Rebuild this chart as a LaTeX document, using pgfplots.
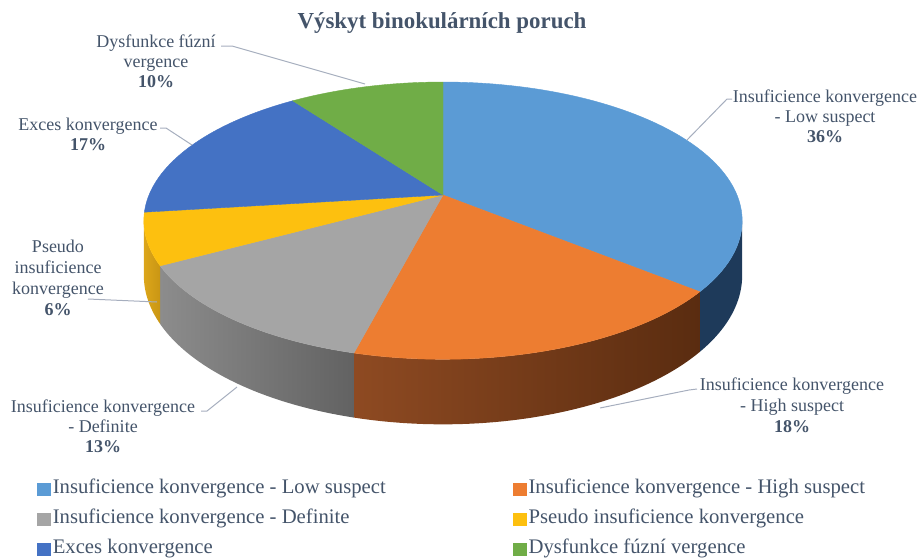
\documentclass[border=0pt]{standalone}
\usepackage{pgfplots}
\pgfplotsset{compat=1.18}
\usepackage{pgfplotstable}
\usepackage{fontspec}
\setmainfont{Liberation Serif}

\definecolor{txt}{HTML}{44546A}
\definecolor{lead}{HTML}{A6AEBE}
\definecolor{cA}{HTML}{5B9BD5}
\definecolor{cB}{HTML}{ED7D31}
\definecolor{cC}{HTML}{A5A5A5}
\definecolor{cD}{HTML}{FDC00F}
\definecolor{cE}{HTML}{4472C4}
\definecolor{cF}{HTML}{70AD47}
\definecolor{sA}{HTML}{1E3A5A}
\definecolor{sBl}{HTML}{8E4A22}
\definecolor{sBr}{HTML}{5A2C10}
\definecolor{sCl}{HTML}{8C8C8C}
\definecolor{sCr}{HTML}{626262}
\definecolor{sDl}{HTML}{DCA61A}
\definecolor{sDr}{HTML}{C99614}

\pgfplotstableread{
value
36
18
13
6
17
10
}\piedata

\newcommand\labfont{\fontsize{9}{10.25}\selectfont}
\newcommand{\lab}[3]{\node[anchor=base, inner sep=0pt, text=txt, font=\labfont] at (axis cs:#1,#2) {#3};}

\begin{document}
\begin{tikzpicture}
\pgfplotstablegetelem{0}{value}\of\piedata\let\vA\pgfplotsretval
\pgfplotstablegetelem{1}{value}\of\piedata\let\vB\pgfplotsretval
\pgfplotstablegetelem{2}{value}\of\piedata\let\vC\pgfplotsretval
\pgfplotstablegetelem{3}{value}\of\piedata\let\vD\pgfplotsretval
\pgfplotstablegetelem{4}{value}\of\piedata\let\vE\pgfplotsretval
\pgfplotstablegetelem{5}{value}\of\piedata\let\vF\pgfplotsretval
\pgfmathsetmacro\aA{90}
\pgfmathsetmacro\aB{\aA-3.6*\vA}
\pgfmathsetmacro\aC{\aB-3.6*\vB}
\pgfmathsetmacro\aD{\aC-3.6*\vC}
\pgfmathsetmacro\aE{\aD-3.6*\vD}
\pgfmathsetmacro\aF{\aE-3.6*\vE}
\pgfmathsetmacro\aG{\aF-3.6*\vF}
\pgfmathsetmacro\tL{-asin(0.185)}
\pgfmathsetmacro\tR{-180+asin(0.185)}
\begin{axis}[
  width=460.5pt, height=279pt, scale only axis,
  xmin=0, xmax=921, ymin=0, ymax=558, y dir=reverse,
  hide axis, clip=false,
  declare function={
    px(\t)=443+294*cos(\t)/(1+0.185*sin(\t));
    py(\t)=195-133.9*sin(\t)/(1+0.185*sin(\t));
    dz(\t)=53/(1+0.185*sin(\t));
    sT(\p,\q,\r)=ifthenelse(\p<=1, \q+(\r-\q)*min(1,\p/0.98), \r-(\r-\q)*max(0,(\p-1.02)/0.98));
    sD(\p,\q)=ifthenelse(\p<=1, 0, dz(\q));
  },
  legend columns=2,
  legend cell align=left,
  legend image code/.code={\fill[#1] (0pt,-3pt) rectangle (6.5pt,3pt);},
  legend style={at={(axis cs:37,479.5)}, anchor=north west, draw=none, fill=none,
    inner sep=0pt, outer sep=0pt, text=txt,
    font=\fontsize{10.35}{12}\selectfont,
    nodes={inner sep=0pt, text height=7.2pt, text depth=2.3pt},
    row sep=5.5pt,
    /tikz/every odd column/.append style={column sep=1.2pt},
    /tikz/every even column/.append style={column sep=63.5pt}},
]
% side walls
\addplot[forget plot, draw=none, fill=sA, domain=0:2, samples=201, variable=\s]
  ({px(sT(\s,\aB,\tL))},{py(sT(\s,\aB,\tL))+sD(\s,sT(\s,\aB,\tL))}) -- cycle;
\addplot[forget plot, draw=none, left color=sBl, right color=sBr, domain=0:2, samples=201, variable=\s]
  ({px(sT(\s,\aC,\aB))},{py(sT(\s,\aC,\aB))+sD(\s,sT(\s,\aC,\aB))}) -- cycle;
\addplot[forget plot, draw=none, left color=sCl, right color=sCr, domain=0:2, samples=201, variable=\s]
  ({px(sT(\s,\aD,\aC))},{py(sT(\s,\aD,\aC))+sD(\s,sT(\s,\aD,\aC))}) -- cycle;
\addplot[forget plot, draw=none, left color=sDl, right color=sDr, domain=0:2, samples=201, variable=\s]
  ({px(sT(\s,\tR,\aD))},{py(sT(\s,\tR,\aD))+sD(\s,sT(\s,\tR,\aD))}) -- cycle;
% top surfaces
\addplot[fill=cA, draw=cA, line width=0.2pt, domain=\aB:\aA, samples=90] ({px(x)},{py(x)}) -- (axis cs:443,195) -- cycle;
\addlegendentry{Insuficience konvergence - Low suspect}
\addplot[fill=cB, draw=cB, line width=0.2pt, domain=\aC:\aB, samples=60] ({px(x)},{py(x)}) -- (axis cs:443,195) -- cycle;
\addlegendentry{Insuficience konvergence - High suspect}
\addplot[fill=cC, draw=cC, line width=0.2pt, domain=\aD:\aC, samples=50] ({px(x)},{py(x)}) -- (axis cs:443,195) -- cycle;
\addlegendentry{Insuficience konvergence - Definite}
\addplot[fill=cD, draw=cD, line width=0.2pt, domain=\aE:\aD, samples=30] ({px(x)},{py(x)}) -- (axis cs:443,195) -- cycle;
\addlegendentry{Pseudo insuficience konvergence}
\addplot[fill=cE, draw=cE, line width=0.2pt, domain=\aF:\aE, samples=60] ({px(x)},{py(x)}) -- (axis cs:443,195) -- cycle;
\addlegendentry{Exces konvergence}
\addplot[fill=cF, draw=cF, line width=0.2pt, domain=\aG:\aF, samples=40] ({px(x)},{py(x)}) -- (axis cs:443,195) -- cycle;
\addlegendentry{Dysfunkce fúzní vergence}
% leader lines
\addplot[forget plot, lead, line width=0.5pt] coordinates {(221,46) (232,46) (365,84)};
\addplot[forget plot, lead, line width=0.5pt] coordinates {(160,128) (166,128) (192,145)};
\addplot[forget plot, lead, line width=0.5pt] coordinates {(88,299) (157,302)};
\addplot[forget plot, lead, line width=0.5pt] coordinates {(201,411) (207,411) (237,387)};
\addplot[forget plot, lead, line width=0.5pt] coordinates {(732,99) (727,99) (687,140)};
\addplot[forget plot, lead, line width=0.5pt] coordinates {(697,389) (689,390) (600,408)};
% labels
\node[anchor=base, inner sep=0pt, text=txt, font=\fontsize{11.45}{13}\selectfont\bfseries] at (axis cs:442,28) {Výskyt binokulárních poruch};
\lab{156}{47}{Dysfunkce fúzní}
\lab{156}{67}{vergence}
\lab{156}{87}{\textbf{10\%}}
\lab{88}{130}{Exces konvergence}
\lab{88}{150}{\textbf{17\%}}
\lab{58}{252}{Pseudo}
\lab{58}{273}{insuficience}
\lab{58}{294}{konvergence}
\lab{58}{315}{\textbf{6\%}}
\lab{103}{412}{Insuficience konvergence}
\lab{103}{432}{- Definite}
\lab{103}{452}{\textbf{13\%}}
\lab{825}{102}{Insuficience konvergence}
\lab{825}{122}{- Low suspect}
\lab{825}{142}{\textbf{36\%}}
\lab{792}{390}{Insuficience konvergence}
\lab{792}{411}{- High suspect}
\lab{792}{432}{\textbf{18\%}}
\end{axis}
\pgfresetboundingbox
\path (current axis.south west) rectangle (current axis.north east);
\end{tikzpicture}
\end{document}
